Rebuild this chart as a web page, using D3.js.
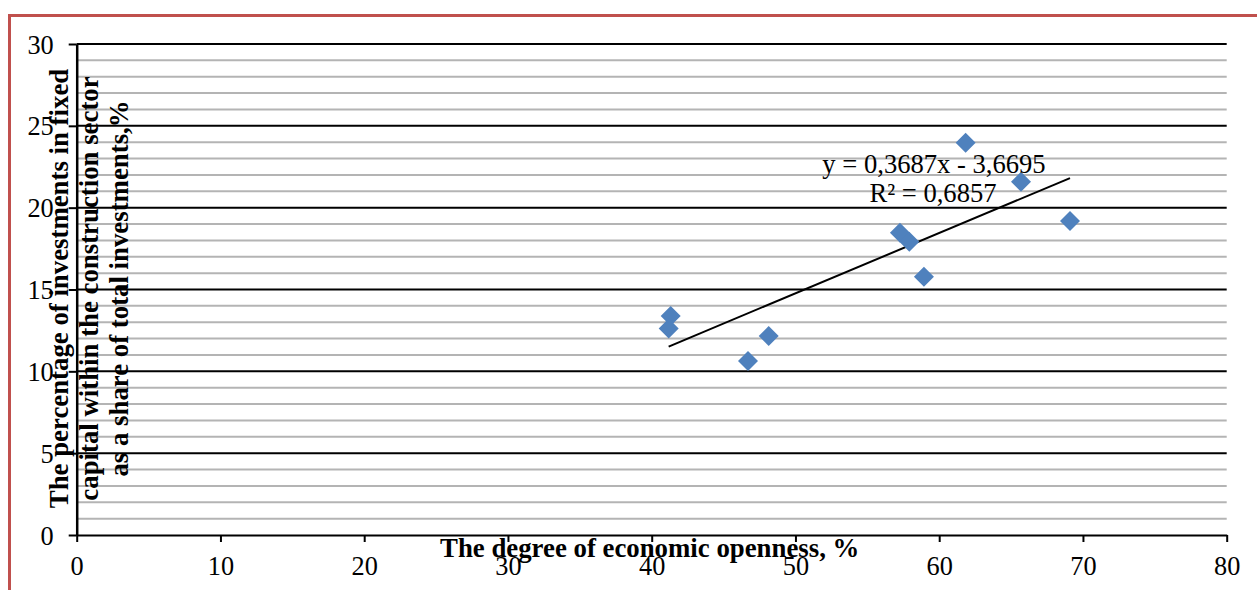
<!DOCTYPE html>
<html>
<head>
<meta charset="utf-8">
<script src="https://cdn.jsdelivr.net/npm/d3@7"></script>
<style>
  html, body { margin: 0; padding: 0; background: #ffffff; }
  svg { display: block; }
</style>
</head>
<body>
<svg id="chart" width="1257" height="590"></svg>
<script>
// ---- data ----
const openness = [61.84, 65.69, 69.1, 57.27, 57.92, 58.94, 41.32, 41.18, 48.14, 46.7];
const constructionShare = [23.97, 21.59, 19.19, 18.47, 17.92, 15.78, 13.38, 12.61, 12.16, 10.63];
const xTicks = [0, 10, 20, 30, 40, 50, 60, 70, 80];
const yTicks = [0, 5, 10, 15, 20, 25, 30];
const trendCoef = [0.3687, -3.6695];
const trendLabels = ["y = 0,3687x - 3,6695", "R² = 0,6857"];
const xTitle = "The degree of economic openness, %";
const yTitleLines = [
  "The percentage of investments in fixed",
  "capital within the construction sector",
  "as a share of total investments,%"
];

(function () {
// ---- layout ----
const svg = d3.select("#chart");
const font = "'Liberation Serif', 'Times New Roman', serif";
const pL = 76.7, pR = 1226.7, pT = 44, pB = 535;

const x = d3.scaleLinear().domain([0, 80]).range([pL, pR]);
const y = d3.scaleLinear().domain([0, 30]).range([pB, pT]);

// red frame
svg.append("rect")
  .attr("x", 9.5).attr("y", 15.5)
  .attr("width", 1300).attr("height", 700)
  .attr("fill", "none").attr("stroke", "#c0504d").attr("stroke-width", 3);

// minor gridlines
const minor = d3.range(1, 30).filter(v => v % 5 !== 0);
svg.append("g").selectAll("line").data(minor).join("line")
  .attr("x1", pL).attr("x2", pR)
  .attr("y1", d => y(d)).attr("y2", d => y(d))
  .attr("stroke", "#b4b4b4").attr("stroke-width", 2);

// major gridlines
svg.append("g").selectAll("line").data(yTicks.filter(v => v > 0)).join("line")
  .attr("x1", pL).attr("x2", pR)
  .attr("y1", d => y(d)).attr("y2", d => y(d))
  .attr("stroke", "#000").attr("stroke-width", 2);

// x axis
const gx = svg.append("g").attr("transform", `translate(0,${pB})`)
  .call(d3.axisBottom(x).tickValues(xTicks).tickSize(7).tickSizeOuter(0).tickFormat(d3.format("d")));
gx.select(".domain").attr("stroke", "#000").attr("stroke-width", 2);
gx.selectAll(".tick line").attr("stroke", "#000").attr("stroke-width", 2);
gx.selectAll(".tick text")
  .attr("y", 40).attr("dy", null)
  .attr("font-family", font).attr("font-size", 26.3).attr("fill", "#000");

// y axis
const gy = svg.append("g").attr("transform", `translate(${pL},0)`)
  .call(d3.axisLeft(y).tickValues(yTicks).tickSize(8).tickSizeOuter(0).tickFormat(d3.format("d")));
gy.select(".domain").attr("stroke", "#000").attr("stroke-width", 2.5);
gy.selectAll(".tick line").attr("stroke", "#000").attr("stroke-width", 2);
gy.selectAll(".tick text")
  .attr("x", -23).attr("dy", 9)
  .attr("font-family", font).attr("font-size", 26.3).attr("fill", "#000");

// trendline
const xMin = d3.min(openness), xMax = d3.max(openness);
svg.append("line")
  .attr("x1", x(xMin)).attr("y1", y(trendCoef[0] * xMin + trendCoef[1]))
  .attr("x2", x(xMax)).attr("y2", y(trendCoef[0] * xMax + trendCoef[1]))
  .attr("stroke", "#000").attr("stroke-width", 2);

// markers
const pts = openness.map((v, i) => [v, constructionShare[i]]);
svg.append("g").selectAll("path").data(pts).join("path")
  .attr("transform", d => `translate(${x(d[0])},${y(d[1])}) rotate(45)`)
  .attr("d", d3.symbol().type(d3.symbolSquare).size(200))
  .attr("fill", "#4f81bd");

// trend labels
svg.append("text")
  .attr("x", 934).attr("y", 173)
  .attr("text-anchor", "middle")
  .attr("font-family", font).attr("font-size", 26.6).attr("fill", "#000")
  .text(trendLabels[0]);
svg.append("text")
  .attr("x", 933).attr("y", 202)
  .attr("text-anchor", "middle")
  .attr("font-family", font).attr("font-size", 26.6).attr("fill", "#000")
  .text(trendLabels[1]);

// x title
svg.append("text")
  .attr("x", (pL + pR) / 2 - 2).attr("y", 557)
  .attr("text-anchor", "middle")
  .attr("font-family", font).attr("font-size", 26.8).attr("font-weight", "bold").attr("fill", "#000")
  .text(xTitle);

// y title
const yt = svg.append("text")
  .attr("transform", `translate(0,${(pT + pB) / 2 - 1}) rotate(-90)`)
  .attr("text-anchor", "middle")
  .attr("font-family", font).attr("font-size", 26.8).attr("font-weight", "bold").attr("fill", "#000");
yTitleLines.forEach((t, i) => {
  yt.append("tspan").attr("x", 0).attr("y", 68 + i * 30).text(t);
});
})();
</script>
</body>
</html>
